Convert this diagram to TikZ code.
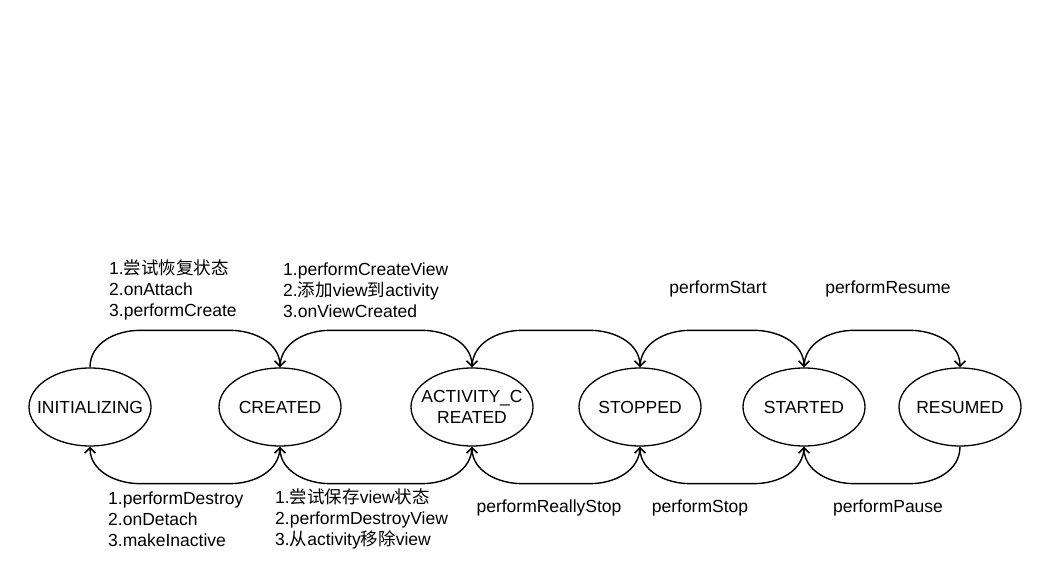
\documentclass[tikz,border=0pt]{standalone}
\usepackage{fontspec}
\setmainfont{Liberation Sans}
\newfontfamily\cjk{Noto Sans CJK SC}
\usetikzlibrary{shapes.geometric,arrows.meta,calc}
\begin{document}
\begin{tikzpicture}[x=1pt,y=1pt,
  every node/.style={font=\fontsize{17.5}{21}\selectfont},
  state/.style={draw,ellipse,line width=1.3pt,minimum width=122pt,minimum height=78pt,inner sep=0pt},
  stext/.style={inner sep=0pt,align=center},
  lbl/.style={inner sep=0pt,align=left},
  arr/.style={line width=1.4pt,-{Straight Barb[length=5.5pt,width=11pt,line width=1.5pt]}}]
\useasboundingbox[fill=white] (0,0) rectangle (1040,569);
\node[state] (init) at (90,162) {};
\node[state] (created) at (280,162) {};
\node[state] (actc) at (472,162) {};
\node[state] (stopped) at (640,162) {};
\node[state] (started) at (804,162) {};
\node[state] (resumed) at (960,162) {};
\node[stext] (initT) at (init) {INITIALIZING};
\node[stext] (createdT) at (created) {CREATED};
\node[stext] (actcT) at (actc) {ACTIVITY\_C\\REATED};
\node[stext] (stoppedT) at (stopped) {STOPPED};
\node[stext] (startedT) at (started) {STARTED};
\node[stext] (resumedT) at (resumed) {RESUMED};
% top arcs
\foreach \a/\b in {init/created,created/actc,actc/stopped,stopped/started,started/resumed}{
  \draw[arr] (\a.north) to[out=90,in=180] ($(\a.north)+(50,37)$) -- ($(\b.north)+(-50,37)$) to[out=0,in=90] (\b.north);
}
% bottom arcs
\foreach \a/\b in {created/init,actc/created,stopped/actc,started/stopped,resumed/started}{
  \draw[arr] (\a.south) to[out=-90,in=0] ($(\a.south)+(-50,-37)$) -- ($(\b.south)+(50,-37)$) to[out=180,in=-90] (\b.south);
}
% top labels
\node[lbl,anchor=west] (t1) at (109,279) {1.{\cjk 尝试恢复状态}\\2.onAttach\\3.performCreate};
\node[lbl,anchor=west] (t2) at (283,279) {1.performCreateView\\2.{\cjk 添加}view{\cjk 到}activity\\3.onViewCreated};
\node[lbl] (t3) at (718,280) {performStart};
\node[lbl] (t4) at (888,280) {performResume};
% bottom labels
\node[lbl,anchor=west] (b1) at (108,50) {1.performDestroy\\2.onDetach\\3.makeInactive};
\node[lbl,anchor=west] (b2) at (275,50) {1.{\cjk 尝试保存}view{\cjk 状态}\\2.performDestroyView\\3.{\cjk 从}activity{\cjk 移除}view};
\node[lbl] (b3) at (549,61) {performReallyStop};
\node[lbl] (b4) at (700,61) {performStop};
\node[lbl] (b5) at (888,61) {performPause};
\end{tikzpicture}
\end{document}
